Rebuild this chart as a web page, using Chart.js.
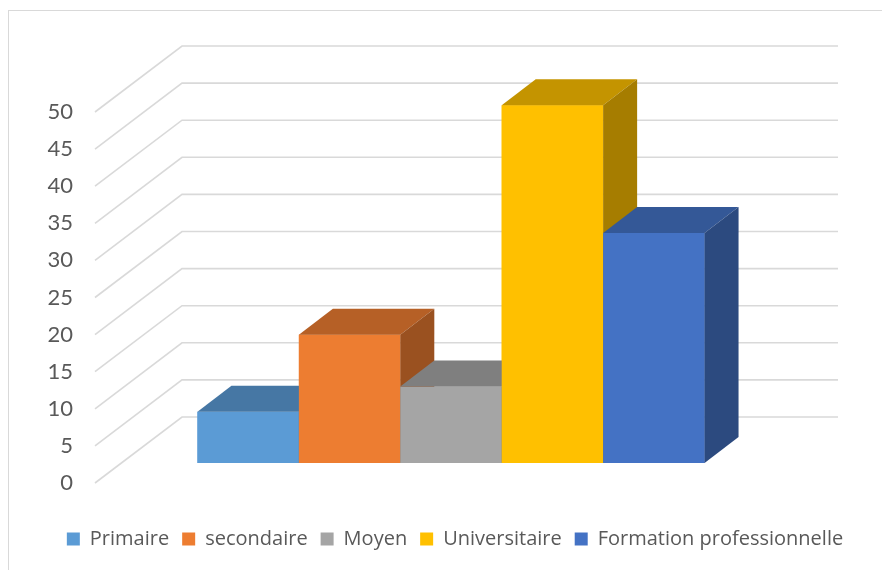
<!DOCTYPE html>
<html>
<head>
<meta charset="utf-8">
<script src="https://cdn.jsdelivr.net/npm/chart.js@4"></script>
<style>
  html, body { margin: 0; padding: 0; background: #fff; overflow: hidden; }
  #wrap { width: 882px; height: 570px; }
</style>
</head>
<body>
<div id="wrap"><canvas id="myChart" width="882" height="570"></canvas></div>
<script>
// data
const categories = ['Primaire', 'secondaire', 'Moyen', 'Universitaire', 'Formation professionnelle']
const values = [6.9, 17.3, 10.3, 48.2, 31.0]
const colors = ['#5B9BD5', '#ED7D31', '#A5A5A5', '#FFC000', '#4472C4']
const yMin = 0
const yMax = 50
const yStep = 5

// 3d look: offsets of the back wall / front floor edge / bar depth (px)
const BACK = [59, -46]
const FRONT = [-28, 20]
const DEPTH = [34, -26]
const GRID = '#d9d9d9'

function shade(hex, f) {
    const n = parseInt(hex.slice(1), 16)
    const r = Math.round(((n >> 16) & 255) * f)
    const g = Math.round(((n >> 8) & 255) * f)
    const b = Math.round((n & 255) * f)
    return `rgb(${r}, ${g}, ${b})`
}

const grid3d = {
    id: 'grid3d',
    beforeDraw(chart) {
        const ctx = chart.ctx
        ctx.save()
        ctx.fillStyle = '#fff'
        ctx.fillRect(0, 0, chart.width, chart.height)
        ctx.strokeStyle = GRID
        ctx.lineWidth = 1
        ctx.strokeRect(8.5, 10.5, chart.width + 10, chart.height + 10)
        ctx.restore()
    },
    beforeDatasetsDraw(chart) {
        const ctx = chart.ctx
        const ys = chart.scales.y
        const {left, right} = chart.chartArea
        ctx.save()
        ctx.strokeStyle = GRID
        ctx.lineWidth = 1.6
        ys.ticks.forEach(t => {
            const y = ys.getPixelForValue(t.value)
            ctx.beginPath()
            ctx.moveTo(left + FRONT[0], y + FRONT[1])
            ctx.lineTo(left + BACK[0], y + BACK[1])
            ctx.lineTo(right + BACK[0], y + BACK[1])
            ctx.stroke()
        })
        ctx.restore()
    },
    afterDatasetsDraw(chart) {
        const ctx = chart.ctx
        ctx.save()
        chart.data.datasets.forEach((ds, i) => {
            const meta = chart.getDatasetMeta(i)
            meta.data.forEach(bar => {
                const L = bar.x - bar.width / 2
                const R = bar.x + bar.width / 2
                const T = bar.y
                const B = bar.base
                const c = colors[i]
                // front
                ctx.fillStyle = c
                ctx.fillRect(L, T, R - L, B - T)
                // top
                ctx.fillStyle = shade(c, 0.77)
                ctx.beginPath()
                ctx.moveTo(L, T)
                ctx.lineTo(R, T)
                ctx.lineTo(R + DEPTH[0], T + DEPTH[1])
                ctx.lineTo(L + DEPTH[0], T + DEPTH[1])
                ctx.closePath()
                ctx.fill()
                // side
                ctx.fillStyle = shade(c, 0.65)
                ctx.beginPath()
                ctx.moveTo(R, T)
                ctx.lineTo(R + DEPTH[0], T + DEPTH[1])
                ctx.lineTo(R + DEPTH[0], B + DEPTH[1])
                ctx.lineTo(R, B)
                ctx.closePath()
                ctx.fill()
            })
        })
        ctx.restore()
    }
}

const data = {
    labels: [''],
    datasets: categories.map((name, i) => ({
        label: name,
        data: [values[i]],
        backgroundColor: colors[i],
        borderWidth: 0,
        categoryPercentage: 0.773,
        barPercentage: 1.0
    }))
}

const config = {
    type: 'bar',
    data: data,
    plugins: [grid3d],
    options: {
        responsive: false,
        animation: false,
        layout: {
            padding: {top: 92, left: 28, right: 0, bottom: 11}
        },
        plugins: {
            tooltip: {enabled: false},
            legend: {
                position: 'bottom',
                labels: {
                    boxWidth: 13,
                    boxHeight: 13,
                    padding: 13,
                    color: '#595959',
                    font: {family: 'Open Sans', size: 20}
                }
            }
        },
        scales: {
            x: {
                grid: {display: false, drawTicks: false},
                border: {display: false},
                ticks: {display: false},
                afterFit(scale) { scale.height = 53 }
            },
            y: {
                min: yMin,
                max: yMax,
                grid: {display: false, drawTicks: false},
                border: {display: false},
                ticks: {
                    stepSize: yStep,
                    padding: 50,
                    labelOffset: FRONT[1],
                    color: '#595959',
                    font: {family: 'Lato', size: 22}
                },
                afterFit(scale) { scale.width = 95 }
            },
            y2: {
                position: 'right',
                grid: {display: false, drawTicks: false},
                border: {display: false},
                ticks: {display: false},
                afterFit(scale) { scale.width = 103 }
            }
        }
    }
}

const ctx = document.getElementById('myChart').getContext('2d')
new Chart(ctx, config)
</script>
</body>
</html>
